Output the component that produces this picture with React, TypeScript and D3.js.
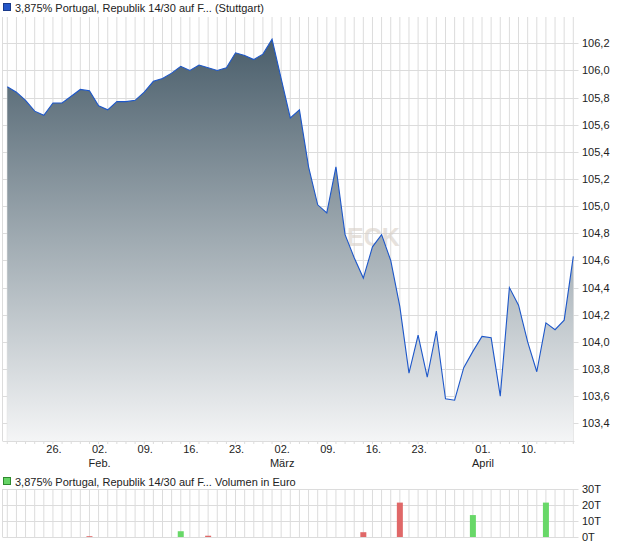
import React from "react";
import * as d3 from "d3";

// ---- data ----
const startDate = new Date(2015, 0, 19);
const endDate = new Date(2015, 3, 18);
const holidays = ["2015-04-03", "2015-04-06"];
const fmt = d3.timeFormat("%Y-%m-%d");
const dates: string[] = d3.timeDay
  .range(startDate, endDate)
  .filter((d) => d.getDay() % 6 !== 0 && !holidays.includes(fmt(d)))
  .map(fmt);

const prices: number[] = [
  105.88, 105.84, 105.78, 105.70, 105.67, 105.76, 105.76, 105.81, 105.86, 105.85,
  105.74, 105.71, 105.77, 105.77, 105.78, 105.84, 105.92, 105.94, 105.98, 106.03,
  106.00, 106.04, 106.02, 106.00, 106.02, 106.13, 106.11, 106.08, 106.12, 106.23,
  105.94, 105.65, 105.71, 105.29, 105.01, 104.95, 105.29, 104.79, 104.62, 104.47,
  104.70, 104.79, 104.60, 104.26, 103.77, 104.05, 103.74, 104.08, 103.58, 103.57,
  103.81, 103.93, 104.04, 104.03, 103.60, 104.40, 104.27, 104.00, 103.78, 104.14,
  104.09, 104.16, 104.63,
];

// volume in thousands of euro (T)
const volumes: number[] = [
  0, 0, 0, 0, 0, 0, 0, 0, 0, 0.5,
  0, 0, 0, 0, 0, 0, 0, 0, 0, 3.6,
  0, 0, 0.8, 0, 0, 0, 0, 0, 0, 0,
  0, 0, 0, 0, 0, 0, 0, 0, 0, 3.0,
  0, 0, 0, 21.5, 0, 0, 0, 0, 0, 0,
  0, 13.7, 0, 0, 0, 0, 0, 0, 0, 21.5,
  0, 0, 0,
];

const priceTicks = [103.4, 103.6, 103.8, 104.0, 104.2, 104.4, 104.6, 104.8, 105.0, 105.2, 105.4, 105.6, 105.8, 106.0, 106.2];
const volumeTicks = [0, 10, 20, 30];
const dayTickDates = ["2015-01-26", "2015-02-02", "2015-02-09", "2015-02-16", "2015-02-23", "2015-03-02", "2015-03-09", "2015-03-16", "2015-03-23", "2015-04-01", "2015-04-10"];
const dayTickLabels = ["26.", "02.", "09.", "16.", "23.", "02.", "09.", "16.", "23.", "01.", "10."];
const monthTickDates = ["2015-02-02", "2015-03-02", "2015-04-01"];
const monthTickLabels = ["Feb.", "März", "April"];

const title = "3,875% Portugal, Republik 14/30 auf F... (Stuttgart)";
const volTitle = "3,875% Portugal, Republik 14/30 auf F... Volumen in Euro";

const FONT = "'Liberation Sans', Arial, sans-serif";
const GRID = "#dcdcdc";
const TEXT = "#222";

export default function App() {
  const W = 620, H = 546;
  const plotL = 2.5, plotR = 574.5;
  const top = 17, bottom = 441;
  const vTop = 489, vBottom = 537;

  const x = d3.scalePoint<string>().domain(dates).range([7.3, 573.3]);
  const y = d3.scaleLinear().domain([103.4, 106.2]).range([423.3, 43.3]);
  const yv = d3.scaleLinear().domain([0, 30]).range([vBottom, vTop]);

  const area = d3
    .area<number>()
    .x((_, i) => x(dates[i]) as number)
    .y0(bottom)
    .y1((d) => y(d));
  const line = d3
    .line<number>()
    .x((_, i) => x(dates[i]) as number)
    .y((d) => y(d));

  return (
    <svg
      width={W}
      height={H}
      style={{ position: "absolute", left: 0, top: 0, background: "#fff" }}
      fontFamily={FONT}
    >
      <defs>
        <linearGradient id="areaGrad" gradientUnits="userSpaceOnUse" x1={0} y1={40} x2={0} y2={bottom}>
          <stop offset="0%" stopColor="#4a5e6b" />
          <stop offset="50%" stopColor="#a0abb2" />
          <stop offset="100%" stopColor="#f4f5f6" />
        </linearGradient>
      </defs>

      {/* title legend */}
      <rect x={3.5} y={3.5} width={7} height={7} fill="#2456c8" stroke="#1a3a8a" strokeWidth={1} />
      <text x={15} y={12} fontSize={11} fill={TEXT}>{title}</text>

      {/* price grid */}
      {dates.map((d) => (
        <line key={"vg" + d} x1={x(d)} x2={x(d)} y1={top} y2={bottom + 3} stroke={GRID} strokeWidth={1} />
      ))}
      <line x1={plotL} x2={plotL} y1={top} y2={bottom} stroke={GRID} />
      {priceTicks.map((t) => (
        <line key={"hg" + t} x1={plotL} x2={plotR + 4} y1={Math.round(y(t)) + 0.5} y2={Math.round(y(t)) + 0.5} stroke={GRID} />
      ))}
      <line x1={plotL} x2={plotR} y1={bottom + 0.5} y2={bottom + 0.5} stroke={GRID} />

      {/* watermark (under the area) */}
      <text x={311} y={246} fontSize={25} fontWeight="bold" fill="#d8d0c8" opacity={0.6}>CHECK</text>

      {/* area + line */}
      <path d={area(prices) || ""} fill="url(#areaGrad)" />
      <path d={line(prices) || ""} fill="none" stroke="#1d57c9" strokeWidth={1.1} />

      {/* right axis */}
      {priceTicks.map((t) => (
        <text key={"yl" + t} x={582} y={y(t) + 4} fontSize={11} fill={TEXT}>
          {d3.format(".1f")(t).replace(".", ",")}
        </text>
      ))}

      {/* x labels */}
      {dayTickDates.map((d, i) => (
        <text key={"xl" + d} x={(x(d) as number) + 1} y={453} fontSize={11} fill={TEXT} textAnchor="middle">
          {dayTickLabels[i]}
        </text>
      ))}
      {monthTickDates.map((d, i) => (
        <text key={"ml" + d} x={(x(d) as number) + 1} y={467} fontSize={11} fill={TEXT} textAnchor="middle">
          {monthTickLabels[i]}
        </text>
      ))}

      {/* volume legend */}
      <rect x={3.5} y={477.5} width={7} height={7} fill="#66d466" stroke="#2f8a2f" strokeWidth={1} />
      <text x={15} y={486} fontSize={11} fill={TEXT}>{volTitle}</text>

      {/* volume grid */}
      {dates.map((d) => (
        <line key={"vvg" + d} x1={x(d)} x2={x(d)} y1={vTop} y2={vBottom} stroke={GRID} />
      ))}
      <line x1={plotL} x2={plotL} y1={vTop} y2={vBottom} stroke={GRID} />
      {volumeTicks.map((t) => (
        <line key={"vhg" + t} x1={plotL} x2={plotR + 4} y1={Math.round(yv(t)) + 0.5} y2={Math.round(yv(t)) + 0.5} stroke={GRID} />
      ))}

      {/* volume bars */}
      {volumes.map((v, i) =>
        v > 0 ? (
          <rect
            key={"vb" + i}
            x={(x(dates[i]) as number) - 3}
            y={yv(v)}
            width={6}
            height={vBottom - yv(v)}
            fill={i > 0 && prices[i] < prices[i - 1] ? "#e06868" : "#68d868"}
          />
        ) : null
      )}

      {volumeTicks.map((t) => (
        <text key={"vl" + t} x={582} y={yv(t) + 4} fontSize={11} fill={TEXT}>
          {t + "T"}
        </text>
      ))}
    </svg>
  );
}
